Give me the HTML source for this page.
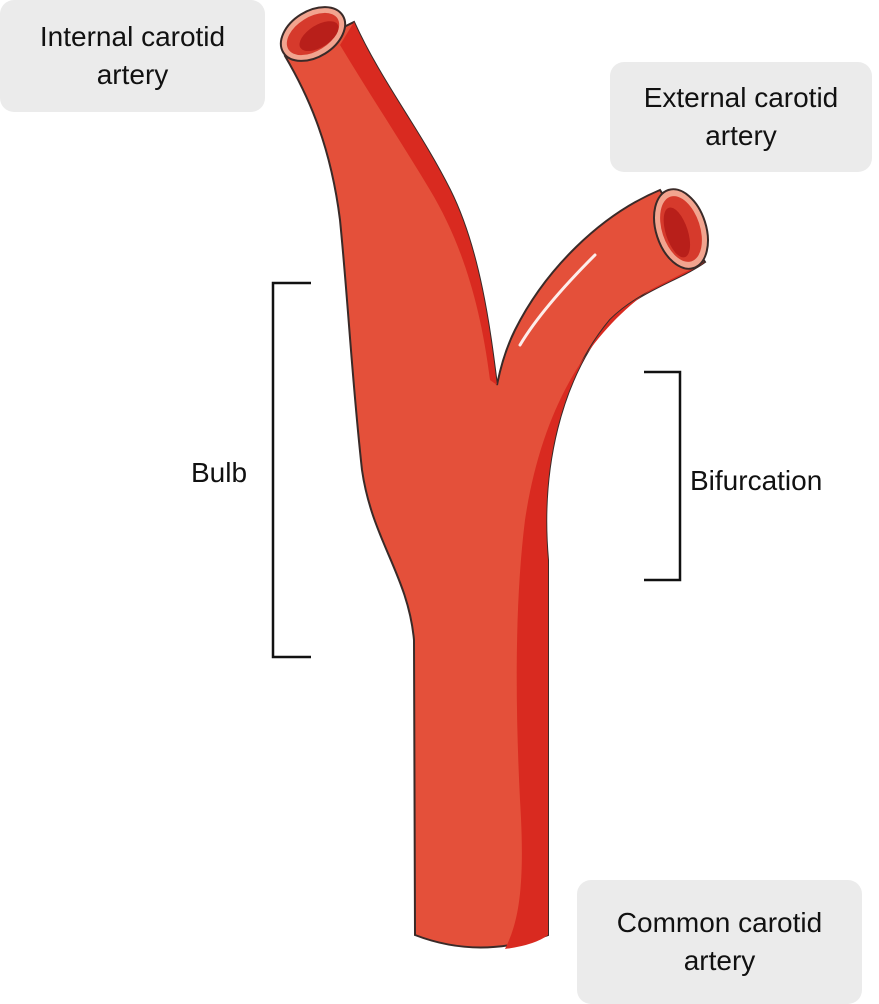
<!DOCTYPE html>
<html><head><meta charset="utf-8"><style>
html,body{margin:0;padding:0;background:#fff;}
body{width:879px;height:1004px;position:relative;overflow:hidden;font-family:"Liberation Sans",sans-serif;}
.box{position:absolute;background:#ebebeb;border-radius:14px;font-size:28px;color:#111;text-align:center;line-height:38px;display:flex;align-items:center;justify-content:center;}
.lbl{position:absolute;font-size:28px;color:#111;}
</style></head><body>
<div class="box" style="left:0;top:0;width:265px;height:112px;">Internal carotid<br>artery</div>
<div class="box" style="left:610px;top:62px;width:262px;height:110px;">External carotid<br>artery</div>
<div class="box" style="left:577px;top:880px;width:285px;height:124px;">Common carotid<br>artery</div>
<div class="lbl" style="left:191px;top:457px;">Bulb</div>
<div class="lbl" style="left:690px;top:465px;">Bifurcation</div>
<svg width="879" height="1004" style="position:absolute;left:0;top:0">
<g fill="none" stroke="#111" stroke-width="2.5">
<path d="M311 283 H273 V657 H311"/>
<path d="M644 372 H680 V580 H644"/>
</g>
<path d="M285 56 C305 90 330 140 340 220 C348 300 352 380 362 470 C372 540 408 575 414 640 L415 935 Q480 960 548 935 L548 560 C540 470 560 380 610 320 C640 290 680 280 705 262 L660 190 C600 215 545 270 515 330 C505 350 500 370 497 385 C490 330 480 250 450 190 C420 130 380 80 354 22 Z" fill="#e4503a" stroke="#3a2a28" stroke-width="2"/>
<path d="M354 22 C380 80 420 130 450 190 C480 250 490 330 497 385 L490 380 C480 300 460 240 430 190 C400 140 370 95 340 45 Z" fill="#d92a20"/>
<path d="M705 262 C680 280 640 290 610 320 C560 380 540 470 548 560 L548 935 Q535 945 505 949 C520 920 525 880 520 800 C515 700 515 600 525 520 C540 420 580 340 650 290 Z" fill="#d92a20"/>
<path d="M595 255 C560 290 535 320 520 345" stroke="#fff" stroke-width="3" fill="none" stroke-linecap="round" opacity="0.9"/>
<g transform="translate(313,34) rotate(-32)">
<ellipse rx="35" ry="23" fill="#f2a48f" stroke="#3a2a28" stroke-width="2"/>
<ellipse rx="29" ry="17" fill="#d63a2c"/>
<ellipse cx="4" cy="5" rx="22" ry="11" fill="#b81f1a"/>
</g>
<g transform="translate(681,229) rotate(-18)">
<ellipse rx="25" ry="41" fill="#f2a48f" stroke="#3a2a28" stroke-width="2"/>
<ellipse rx="19" ry="34" fill="#d63a2c"/>
<ellipse cx="-5" cy="2" rx="11" ry="26" fill="#b81f1a"/>
</g>
</svg>
</body></html>
